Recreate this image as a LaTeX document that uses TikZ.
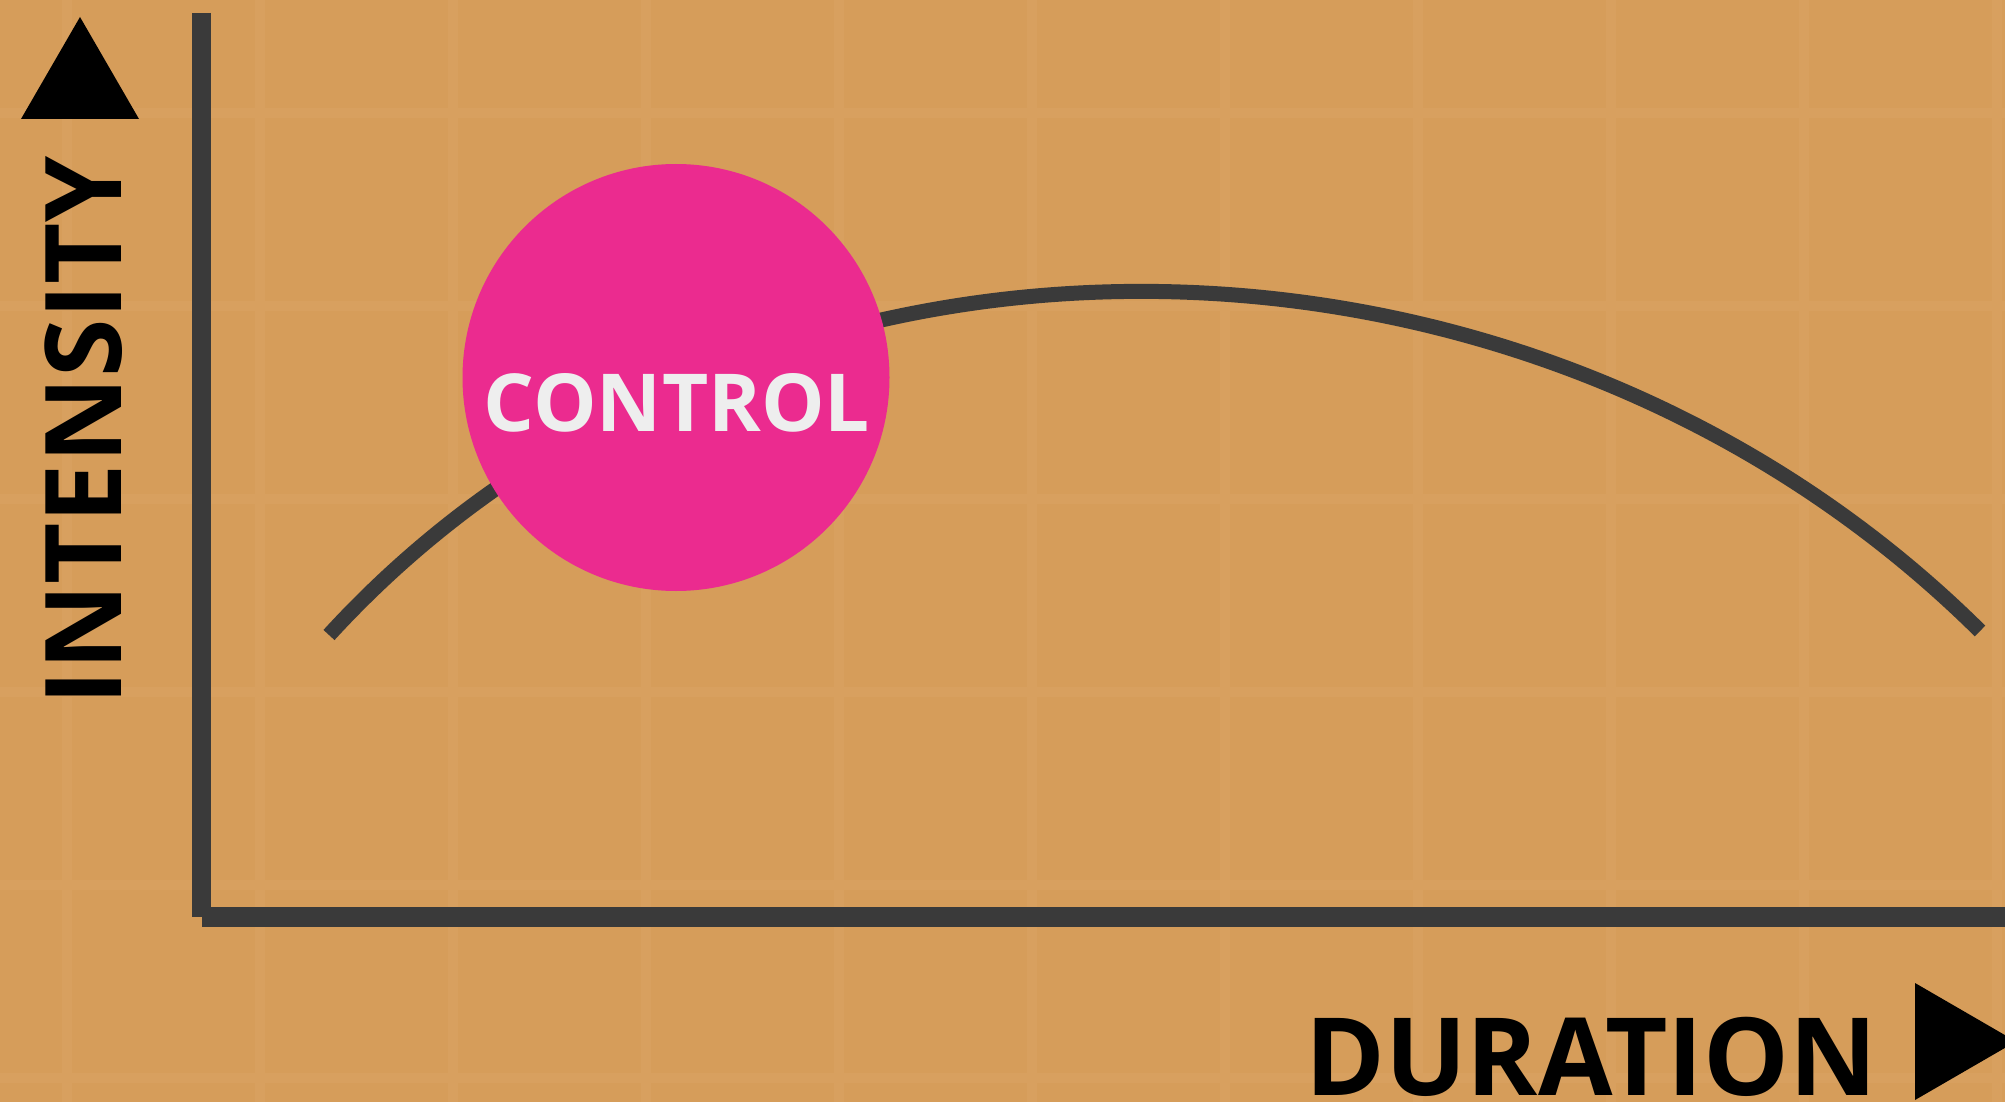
\documentclass[tikz,border=0pt]{standalone}
\usepackage{fontspec}
\setmainfont{Open Sans}
\definecolor{bg}{RGB}{214,157,90}
\definecolor{gridln}{RGB}{216,160,95}
\definecolor{axisgray}{RGB}{58,58,58}
\definecolor{pink}{RGB}{235,43,143}
\definecolor{offwhite}{RGB}{238,238,238}
\begin{document}
\begin{tikzpicture}[x=1pt,y=-1pt,
  axisline/.style={draw=axisgray,line cap=butt},
  curveline/.style={draw=axisgray,line width=15pt,line cap=butt},
  gridline/.style={draw=gridln,line width=10pt},
  marker/.style={fill=black},
  axislabel/.style={inner sep=0pt,text=black},
]
% canvas
\fill[bg] (0,0) rectangle (2005,1102);
\useasboundingbox (0,0) rectangle (2005,1102);

% faint background grid
\foreach \gx in {67,260,...,2000} \draw[gridline] (\gx,0) -- (\gx,1102);
\foreach \gy in {113,306,...,1100} \draw[gridline] (0,\gy) -- (2005,\gy);

% axes
\coordinate (ytop) at (201.5,13);
\coordinate (ybot) at (201.5,917);
\coordinate (xleft) at (202,917);
\coordinate (xright) at (2005,917);
\draw[axisline,line width=19pt] (ytop) -- (ybot);
\draw[axisline,line width=20pt] (xleft) -- (xright);

% axis arrows
\fill[marker] (21,119) -- (139,119) -- (80,17) -- cycle;
\fill[marker] (1915,983) -- (1915,1100) -- (2016,1041.5) -- cycle;

% axis labels
\node[axislabel,anchor=base west,font=\fontsize{108}{108}\selectfont\bfseries] (dur) at (1305,1095) {DURATION};
\node[axislabel,anchor=base west,rotate=90,font=\fontsize{106}{106}\selectfont\bfseries] (int) at (121.5,706) {INTENSITY};

% curve
\coordinate (cstart) at (329,635);
\coordinate (cend) at (1980,631);
\draw[curveline] (cstart) .. controls (750,175) and (1525,180) .. (cend);

% highlighted bubble
\node[circle,fill=pink,minimum size=427pt,inner sep=0pt] (ctrl) at (676,377.5) {};
\node[inner sep=0pt,anchor=base,text=offwhite,font=\fontsize{80}{80}\selectfont\bfseries] (ctrltext) at (677,431) {CONTROL};
\end{tikzpicture}
\end{document}
